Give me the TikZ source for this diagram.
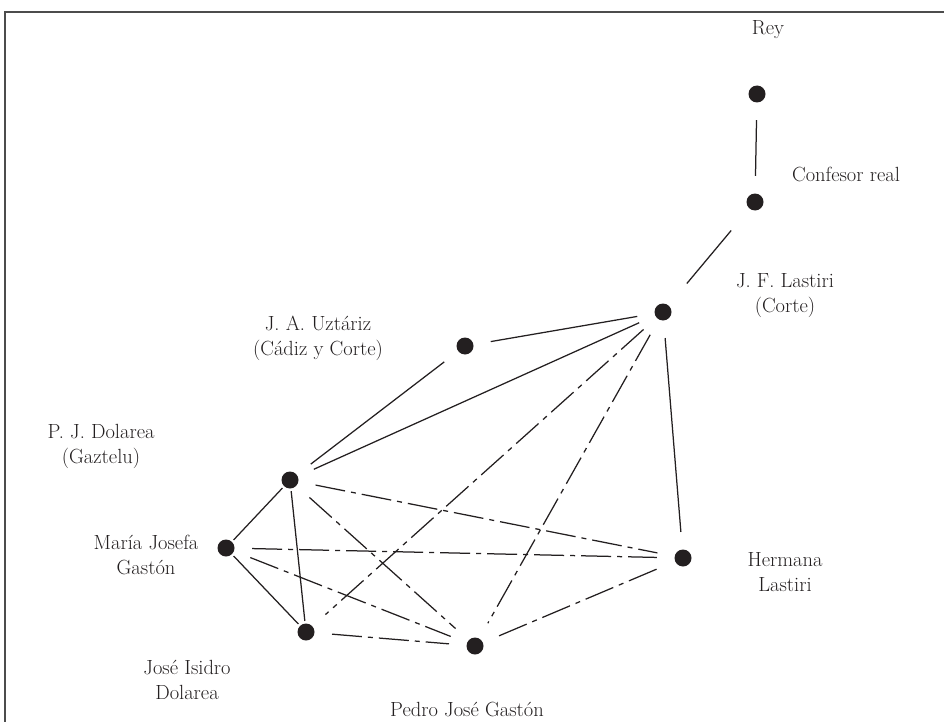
\documentclass[tikz,border=0pt]{standalone}
\usepackage{tikz}
\usetikzlibrary{positioning}
\usepackage{xcolor}
\definecolor{ink}{HTML}{231F20}

\begin{document}
\begin{tikzpicture}[x=1pt, y=-1pt, ink, line width=1.25pt,
                    main node/.style={circle,fill=ink,inner sep=0pt,minimum size=17pt},
                    name node/.style={align=center,font=\fontsize{20.5}{25}\selectfont},
                    tie/.style={shorten >=17pt, shorten <=17pt},
                    close tie/.style={shorten >=2pt, shorten <=2pt},
                    weak tie/.style={tie, dash pattern=on 30pt off 6pt on 5pt off 6pt}]

  \useasboundingbox (0,0) rectangle (944,722);
  % frame
  \draw[black!70, line width=1.3pt] (5,722) -- (5,12) -- (944,12);

  \node[main node] (1) at (757,94) {};
  \node[main node] (2) at (755,202) {};
  \node[main node] (3) at (663,312) {};
  \node[main node] (4) at (465,346) {};
  \node[main node] (5) at (290,480) {};
  \node[main node] (6) at (226,548) {};
  \node[main node] (7) at (306,632) {};
  \node[main node] (8) at (475,646) {};
  \node[main node] (9) at (683,558) {};

  \node[name node] (l1) at (768,30) {Rey};
  \node[name node] (l2) at (846,174) {Confesor real};
  \node[name node] (l3) at (785,296) {J. F. Lastiri\\(Corte)};
  \node[name node] (l4) at (318,338) {J. A. Uzt\'ariz\\(C\'adiz y Corte)};
  \node[name node] (l5) at (101,446) {P. J. Dolarea\\(Gaztelu)};
  \node[name node] (l6) at (146,555) {Mar\'ia Josefa\\Gast\'on};
  \node[name node] (l9) at (785,572) {Hermana\\Lastiri};
  \node[name node] (l7) at (187,680) {Jos\'e Isidro\\Dolarea};
  \node[name node] (l8) at (467,709) {Pedro Jos\'e Gast\'on};

  \path[tie]
    (1) edge (2)
    (2) edge [shorten >=28pt, shorten <=28pt] (3)
    (4) edge (3)
        edge (5)
    (3) edge (5)
        edge (9);

  \path[close tie]
    (5) edge (6)
        edge (7)
    (6) edge (7);

  \path[weak tie]
    (3) edge (7)
        edge (8)
    (5) edge (9)
        edge (8)
    (6) edge (9)
        edge (8)
    (7) edge (8)
    (8) edge (9);
\end{tikzpicture}
\end{document}
